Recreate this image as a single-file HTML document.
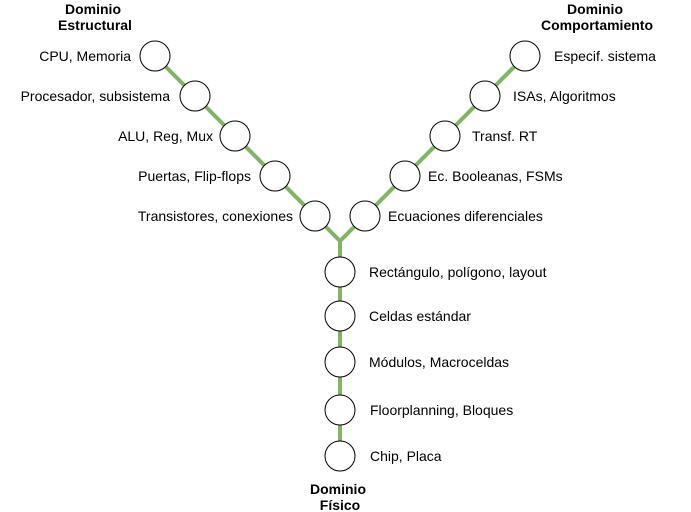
<!DOCTYPE html>
<html><head><meta charset="utf-8"><style>
html,body{margin:0;padding:0;background:#fff;}
svg{display:block;font-family:"Liberation Sans",Arial,sans-serif;}
text{font-size:14px;fill:#000;}
.t{font-weight:bold;}
</style></head><body>
<svg width="691" height="512" viewBox="0 0 691 512">
<g stroke="#82b366" stroke-width="4" fill="none">
<line x1="155" y1="56" x2="340" y2="241"/>
<line x1="525" y1="56" x2="340" y2="241"/>
<line x1="340" y1="241" x2="340" y2="456"/>
</g>
<g fill="#fff" stroke="#000" stroke-width="1">
<circle cx="155" cy="56" r="15"/>
<circle cx="195" cy="96" r="15"/>
<circle cx="235" cy="136" r="15"/>
<circle cx="275" cy="176" r="15"/>
<circle cx="315" cy="216" r="15"/>
<circle cx="525" cy="56" r="15"/>
<circle cx="485" cy="96" r="15"/>
<circle cx="445" cy="136" r="15"/>
<circle cx="405" cy="176" r="15"/>
<circle cx="365" cy="216" r="15"/>
<circle cx="340" cy="272" r="15"/>
<circle cx="340" cy="316" r="15"/>
<circle cx="340" cy="362" r="15"/>
<circle cx="340" cy="410" r="15"/>
<circle cx="340" cy="456" r="15"/>
</g>
<g text-anchor="end">
<text x="131" y="61">CPU, Memoria</text>
<text x="170" y="101">Procesador, subsistema</text>
<text x="213" y="141">ALU, Reg, Mux</text>
<text x="251" y="181">Puertas, Flip-flops</text>
<text x="293" y="221">Transistores, conexiones</text>
</g>
<g>
<text x="554" y="61">Especif. sistema</text>
<text x="513" y="101">ISAs, Algoritmos</text>
<text x="472" y="141">Transf. RT</text>
<text x="428" y="181">Ec. Booleanas, FSMs</text>
<text x="388" y="221">Ecuaciones diferenciales</text>
</g>
<g>
<text x="369" y="277">Rectángulo, polígono, layout</text>
<text x="369" y="321">Celdas estándar</text>
<text x="369" y="367">Módulos, Macroceldas</text>
<text x="370" y="415">Floorplanning, Bloques</text>
<text x="370" y="461">Chip, Placa</text>
</g>
<g class="t" text-anchor="middle">
<text class="t" x="93" y="14"><tspan x="93">Dominio</tspan><tspan x="95" dy="16">Estructural</tspan></text>
<text class="t" x="595" y="14"><tspan x="595">Dominio</tspan><tspan x="597" dy="16">Comportamiento</tspan></text>
<text class="t" x="338" y="494"><tspan x="338">Dominio</tspan><tspan x="340" dy="16">Físico</tspan></text>
</g>
</svg>
</body></html>
